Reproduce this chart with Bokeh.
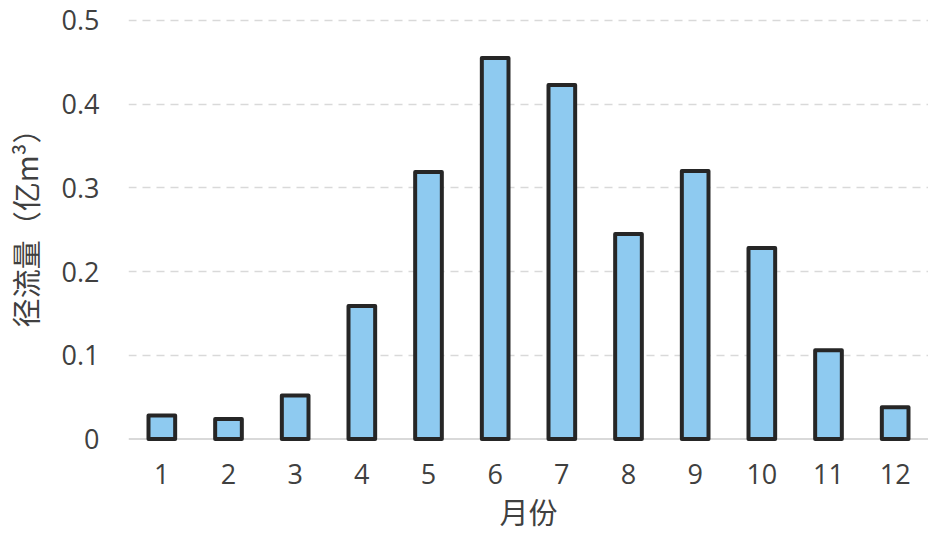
from bokeh.plotting import figure
from bokeh.models import FixedTicker, NumeralTickFormatter, Span, Range1d
from bokeh.embed import file_html
from bokeh.resources import INLINE

months = ["1", "2", "3", "4", "5", "6", "7", "8", "9", "10", "11", "12"]
runoff = [0.028, 0.024, 0.052, 0.159, 0.319, 0.455, 0.423, 0.245, 0.320, 0.228, 0.106, 0.038]
y_ticks = [0, 0.1, 0.2, 0.3, 0.4, 0.5]
grid_ticks = [0.1, 0.2, 0.3, 0.4, 0.5]

p = figure(x_range=months, y_range=Range1d(-0.003, 0.5238), width=928, height=534,
           output_backend="svg", toolbar_location=None,
           min_border_left=119, min_border_right=0, min_border_top=0, min_border_bottom=92)
p.outline_line_color = None
p.background_fill_color = "white"

p.vbar(x=months, top=runoff, width=0.4, fill_color="#8ECAF0",
       line_color="#262626", line_width=4, line_join="round")

base = Span(location=0, dimension="width", line_color="#d9d9d9", line_width=2, level="underlay")
p.add_layout(base)

p.xgrid.grid_line_color = None
p.ygrid.ticker = FixedTicker(ticks=grid_ticks)
p.ygrid.grid_line_color = "#d9d9d9"
p.ygrid.grid_line_width = 1.5
p.ygrid.grid_line_dash = "8 6"

p.yaxis.ticker = FixedTicker(ticks=y_ticks)
p.yaxis.formatter = NumeralTickFormatter(format="0.[0]")
for ax in (p.xaxis, p.yaxis):
    ax.axis_line_color = None
    ax.major_tick_line_color = None
    ax.minor_tick_line_color = None
    ax.major_tick_out = 0
    ax.major_tick_in = 0
    ax.major_label_text_font = "Open Sans"
    ax.major_label_text_font_size = "27px"
    ax.major_label_text_color = "#404040"
    ax.axis_label_text_font = "Noto Sans CJK SC"
    ax.axis_label_text_font_size = "29px"
    ax.axis_label_text_font_style = "normal"
    ax.axis_label_text_color = "#404040"

p.xaxis.axis_label = "月份"
p.yaxis.axis_label = "径流量（亿m³）"
p.xaxis.major_label_standoff = 22
p.xaxis.axis_label_standoff = 3
p.yaxis.major_label_standoff = 29
p.yaxis.axis_label_standoff = 13

open("out.html", "w").write(file_html(p, INLINE))
